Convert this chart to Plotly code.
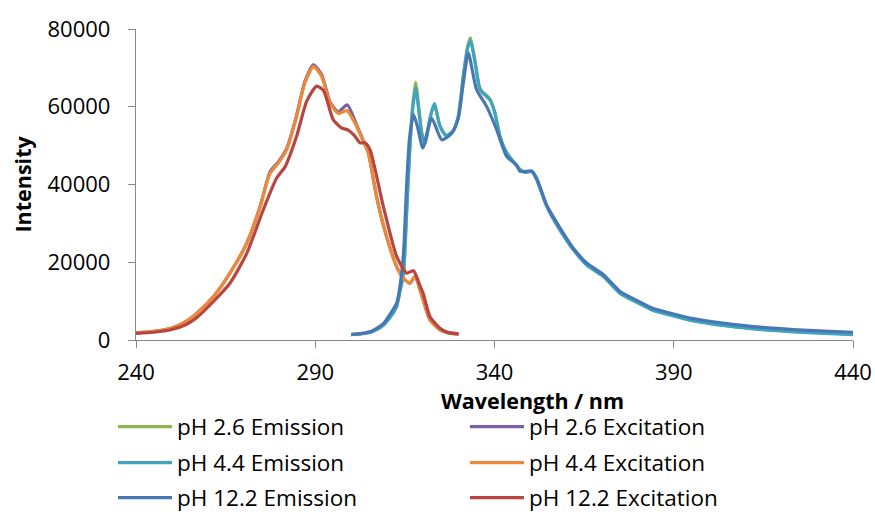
import plotly.graph_objects as go

# ---------------- data ----------------
exc_x = [240, 245, 250, 254, 257, 261.6, 266.2, 270.9, 274.6, 277.4, 279.7, 282, 284.8,
         287.1, 289.5, 291.8, 294.1, 296.4, 298.9, 301.5, 303.4, 304.8, 307.1, 309.9,
         312.7, 314.5, 316.4, 317.8, 320.1, 322, 324.8, 327, 330]
ph26_exc = [1800, 2200, 3100, 4800, 6900, 11150, 17200, 24900, 34300, 43300, 45800, 49200, 57800,
            66500, 70800, 68200, 61300, 58700, 60500, 55400, 51300, 48200, 36900, 26600,
            18900, 16000, 14600, 16300, 10300, 5150, 2600, 1900, 1600]
ph44_exc = [1800, 2200, 3100, 4800, 6900, 11150, 17200, 24900, 34300, 42900, 45500, 48900, 57500,
            66100, 70300, 67800, 61000, 58300, 59000, 55000, 51100, 48100, 36900, 26600,
            18900, 16000, 14600, 16300, 10300, 5150, 2600, 1900, 1600]

exc12_x = [240, 245, 250, 254, 257, 261.6, 266.2, 270.9, 275.5, 279.2, 281.6, 284.8, 287.6,
           290.4, 292.3, 295, 297.4, 299.2, 301, 302.5, 303.9, 305.3, 309, 312.7, 315.5,
           317.4, 319.2, 320.1, 322, 324.8, 327, 330]
ph122_exc = [1700, 2000, 2700, 4000, 5800, 9900, 14600, 22300, 33500, 41600, 44600, 52400, 61400,
             65300, 64200, 56700, 54500, 54000, 52500, 50700, 50700, 48900, 34300, 21500, 17200,
             17800, 14000, 12000, 6000, 3000, 1900, 1500]

em_x = [300, 303, 306, 309, 311, 312.7, 313.5, 314.6, 315.5, 316.3, 317.2, 318, 319.7,
        320.6, 322, 323.2, 324.8, 326.5, 328.5, 329.9, 331.3, 332.5, 333.3, 334.6, 336,
        338.7, 340.1, 341.5, 343.4, 345.2, 347.1, 348.5, 350.4, 351.8, 354.6, 358.3, 362,
        365.7, 370.4, 375, 379.7, 384.3, 389.9, 395.5, 404.8, 414.1, 423.3, 432, 440]
ph26_em = [1400, 1600, 2200, 3800, 6000, 8600, 12000, 17000, 33000, 48000, 60500, 66300, 53500,
           50800, 57000, 60600, 55000, 52600, 53800, 57500, 67800, 75500, 77700, 71600, 64600,
           62000, 58600, 52500, 48200, 46000, 43900, 43200, 43400, 41300, 34400, 28300, 23300,
           19400, 16400, 12100, 9800, 7700, 6300, 5000, 3700, 2800, 2200, 1800, 1500]
ph44_em = [1400, 1600, 2200, 3800, 6000, 8600, 12000, 17000, 33000, 48000, 59500, 64800, 53000,
           50500, 57000, 60800, 55000, 52600, 53800, 57500, 67800, 75000, 77000, 71300, 64400,
           61800, 58400, 52400, 48100, 45900, 43800, 43100, 43350, 41200, 34300, 28200, 23200,
           19300, 16300, 12000, 9700, 7600, 6200, 4900, 3600, 2700, 2100, 1700, 1400]

em12_x = [300, 303, 306, 309, 311, 312.7, 313.5, 314.6, 315.5, 316.3, 317.4, 318.5, 320,
          322.5, 325.3, 328.1, 329.9, 331.3, 332.7, 335, 337.8, 340.6, 343.4, 346.2, 347.1,
          350.4, 351.8, 354.6, 358.3, 362, 365.7, 370.4, 375, 379.7, 384.3, 389.9, 395.5,
          404.8, 414.1, 423.3, 432, 440]
ph122_em = [1400, 1700, 2400, 4200, 6800, 9500, 13000, 22000, 40000, 52000, 58000, 55000, 49400,
            57000, 51500, 53200, 57000, 66100, 73800, 64400, 60100, 54100, 47200, 45000, 43400,
            43400, 41500, 34600, 28800, 23600, 19800, 16800, 12500, 10200, 8100, 6700, 5500,
            4200, 3300, 2700, 2300, 2000]

series = [
    ("pH 2.6 Emission", em_x, ph26_em, "#8EB44E", "legend"),
    ("pH 2.6 Excitation", exc_x, ph26_exc, "#7A5FA0", "legend"),
    ("pH 4.4 Emission", em_x, ph44_em, "#3FA5BE", "legend2"),
    ("pH 4.4 Excitation", exc_x, ph44_exc, "#EE8A37", "legend2"),
    ("pH 12.2 Emission", em12_x, ph122_em, "#4778B4", "legend3"),
    ("pH 12.2 Excitation", exc12_x, ph122_exc, "#B8453F", "legend3"),
]

x_ticks = [240, 290, 340, 390, 440]
y_ticks = [0, 20000, 40000, 60000, 80000]

fig = go.Figure()
for name, xs, ys, col, lg in series:
    fig.add_trace(go.Scatter(x=xs, y=ys, name=name, mode="lines",
                             line=dict(color=col, width=3.2, shape="spline", smoothing=0.6),
                             legend=lg))

font_main = "Open Sans"
axis_col = "#888888"

leg_common = dict(orientation="h", xref="container", yref="container",
                  x=113 / 875, xanchor="left", yanchor="middle",
                  entrywidth=283, entrywidthmode="pixels", itemwidth=54,
                  font=dict(family=font_main, size=22.5, color="#000000"),
                  bgcolor="rgba(0,0,0,0)", borderwidth=0, tracegroupgap=0)

fig.update_layout(
    width=875, height=512,
    margin=dict(l=136, r=22, t=29, b=172, autoexpand=False),
    paper_bgcolor="white", plot_bgcolor="white",
    showlegend=True,
    legend=dict(**leg_common, y=1 - 427 / 512),
    legend2=dict(**leg_common, y=1 - 463 / 512),
    legend3=dict(**leg_common, y=1 - 498 / 512),
    xaxis=dict(range=[240, 440], tickvals=x_ticks, ticktext=[str(v) for v in x_ticks],
               showgrid=False, zeroline=False, showline=True, linecolor=axis_col, linewidth=1.3,
               ticks="outside", ticklen=7, tickcolor=axis_col, tickwidth=1.3,
               ticklabelstandoff=5, automargin=False,
               tickfont=dict(family=font_main, size=22, color="#000000")),
    yaxis=dict(range=[0, 80000], tickvals=y_ticks, ticktext=[str(v) for v in y_ticks],
               showgrid=False, zeroline=False, showline=True, linecolor=axis_col, linewidth=1.3,
               ticks="outside", ticklen=7, tickcolor=axis_col, tickwidth=1.3,
               ticklabelstandoff=13, automargin=False,
               tickfont=dict(family=font_main, size=22, color="#000000")),
    annotations=[
        dict(text="<b>Wavelength / nm</b>", xref="paper", yref="paper",
             x=(532.5 - 136) / 717, y=-(400 - 340) / 311, xanchor="center", yanchor="middle",
             showarrow=False, font=dict(family=font_main, size=21.5, color="#000000")),
        dict(text="<b>Intensity</b>", xref="paper", yref="paper", textangle=-90,
             x=-(136 - 22) / 717, y=0.5, xanchor="center", yanchor="middle",
             showarrow=False, font=dict(family=font_main, size=21.5, color="#000000")),
    ],
)

fig.write_html("out.html")
